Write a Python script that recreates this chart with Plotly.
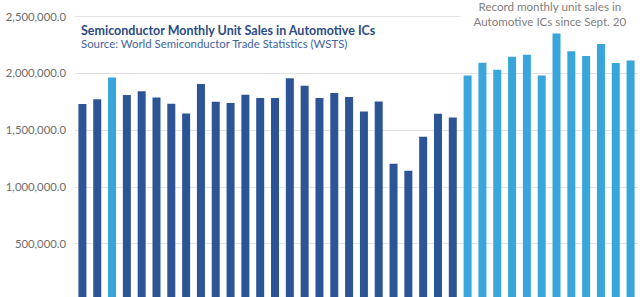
import plotly.graph_objects as go

months = ["Jul-18", "Aug-18", "Sep-18", "Oct-18", "Nov-18", "Dec-18",
          "Jan-19", "Feb-19", "Mar-19", "Apr-19", "May-19", "Jun-19",
          "Jul-19", "Aug-19", "Sep-19", "Oct-19", "Nov-19", "Dec-19",
          "Jan-20", "Feb-20", "Mar-20", "Apr-20", "May-20", "Jun-20",
          "Jul-20", "Aug-20", "Sep-20", "Oct-20", "Nov-20", "Dec-20",
          "Jan-21", "Feb-21", "Mar-21", "Apr-21", "May-21", "Jun-21",
          "Jul-21", "Aug-21"]
unit_sales = [1732000, 1773000, 1964000, 1811000, 1843000, 1790000,
              1735000, 1649000, 1908000, 1752000, 1741000, 1814000,
              1785000, 1785000, 1958000, 1893000, 1785000, 1829000,
              1793000, 1665000, 1754000, 1207000, 1145000, 1443000,
              1647000, 1612000, 1982000, 2095000, 2033000, 2148000,
              2166000, 1982000, 2353000, 2195000, 2154000, 2260000,
              2092000, 2115000]
record_months = ["Sep-18", "Sep-20", "Oct-20", "Nov-20", "Dec-20", "Jan-21",
                 "Feb-21", "Mar-21", "Apr-21", "May-21", "Jun-21", "Jul-21",
                 "Aug-21"]

DARK = "#2d5494"
LIGHT = "#38a6db"
colors = [LIGHT if m in record_months else DARK for m in months]

fig = go.Figure(go.Bar(x=months, y=unit_sales, marker=dict(color=colors, line_width=0),
                       hoverinfo="x+y"))

fig.update_layout(
    width=640, height=297,
    margin=dict(l=75, r=2, t=0, b=0),
    paper_bgcolor="white", plot_bgcolor="white",
    bargap=0.46,
    showlegend=False,
    font=dict(family="Lato, Open Sans, sans-serif"),
    xaxis=dict(showticklabels=False, showgrid=False, zeroline=False,
               showline=False, range=[-0.5, len(months) - 0.5]),
    yaxis=dict(range=[33500, 2647000], tickvals=[500000, 1000000, 1500000, 2000000, 2500000],
               tickformat=",.1f", showgrid=True, gridcolor="#e3e3e3", gridwidth=1,
               zeroline=False, showline=False, ticks="", ticklabelstandoff=8,
               tickfont=dict(family="Lato, Open Sans, sans-serif", size=11.3, color="#6b6b6b")),
    annotations=[
        dict(xref="paper", yref="paper", x=0.0, y=0.898, xanchor="left", yanchor="middle",
             xshift=4, text="<b>Semiconductor Monthly Unit Sales in Automotive ICs</b>",
             showarrow=False, font=dict(family="Lato, sans-serif", size=12.5, color="#2b4a86")),
        dict(xref="paper", yref="paper", x=0.0, y=0.852, xanchor="left", yanchor="middle",
             xshift=4, text="Source: World Semiconductor Trade Statistics (WSTS)",
             showarrow=False, font=dict(family="Lato, sans-serif", size=11.4, color="#3f63a0")),
        dict(xref="paper", yref="paper", x=1.0, y=1.0, xanchor="right", yanchor="top",
             xshift=2, yshift=2, text="Record monthly unit sales in<br>Automotive ICs since Sept. 20",
             showarrow=False, align="center", width=176, bgcolor="white", borderpad=1,
             font=dict(family="Lato, sans-serif", size=11.6, color="#808080")),
    ],
)

fig.write_html("out.html")
